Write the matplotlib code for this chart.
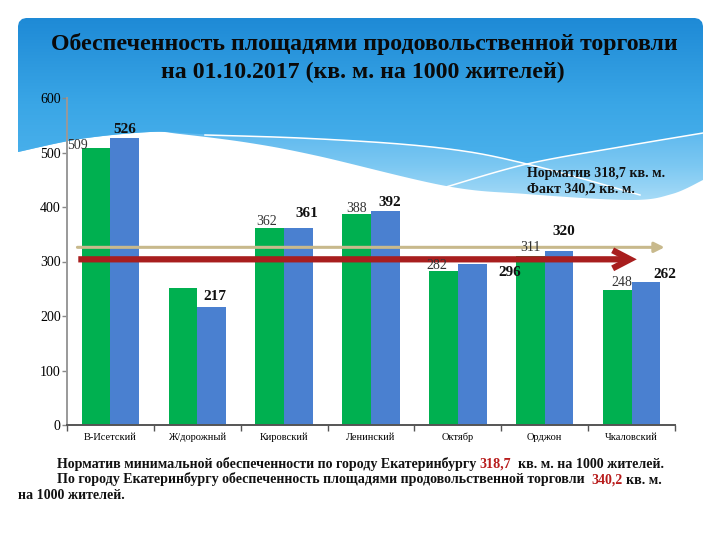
import numpy as np
import matplotlib
matplotlib.use('Agg')
import matplotlib.pyplot as plt
from matplotlib.path import Path
from matplotlib.patches import PathPatch
from matplotlib.colors import LinearSegmentedColormap

# ---------------- data ----------------
districts = ['В-Исетский', 'Ж/дорожный', 'Кировский', 'Ленинский', 'Октябр', 'Орджон', 'Чкаловский']
values_prev = [509, 251, 362, 388, 282, 311, 248]
labels_prev = ['509', '', '362', '388', '282', '311', '248']
values_curr = [526, 217, 361, 392, 296, 320, 262]
labels_curr = ['526', '217', '361', '392', '296', '320', '262']
norm_line_level = 326
fact_line_level = 304
y_ticks = [0, 100, 200, 300, 400, 500, 600]

title_lines = ['Обеспеченность площадями продовольственной торговли',
               'на 01.10.2017 (кв. м. на 1000 жителей)']
note_lines = ['Норматив 318,7 кв. м.', 'Факт 340,2 кв. м.']
bottom_line1 = [('Норматив минимальной обеспеченности по городу Екатеринбургу ', 'k'),
                ('318,7', 'r'), ('  кв. м. на 1000 жителей.', 'k')]
bottom_line2 = [('По городу Екатеринбургу обеспеченность площадями продовольственной торговли  ', 'k'),
                ('340,2', 'r'), (' кв. м.', 'k')]
bottom_line3 = 'на 1000 жителей.'

# ---------------- style ----------------
plt.rcParams['font.family'] = ['Liberation Serif', 'DejaVu Serif']
W, H = 720, 540
GREEN = '#00b050'
BLUE = '#4a80d0'
RED = '#a81e1e'
TAN = '#c8b98c'
TXT_RED = '#b81c1c'

# label offsets in pixels (dx, dy-up)
off_prev = [(-19, 2), (0, 0), (-3.5, 6.5), (0, 5), (-6.5, 5.5), (0, 8.5), (4.5, 7)]
off_curr = [(0, 8.5), (3, 10), (8, 15), (4.5, 8.5), (37.5, -9), (4.5, 19), (18.5, 7.5)]

fig = plt.figure(figsize=(7.2, 5.4), dpi=100, facecolor='white')

# ---------------- background ----------------
bg = fig.add_axes([0, 0, 1, 1], zorder=-1)
bg.set_xlim(0, W)
bg.set_ylim(H, 0)
bg.axis('off')


def catmull(pts, n=30):
    pts = np.array(pts, float)
    P = np.vstack([pts[0], pts, pts[-1]])
    out = []
    for i in range(1, len(P) - 2):
        p0, p1, p2, p3 = P[i - 1], P[i], P[i + 1], P[i + 2]
        t = np.linspace(0, 1, n, endpoint=False)[:, None]
        out.append(0.5 * ((2 * p1) + (-p0 + p2) * t + (2 * p0 - 5 * p1 + 4 * p2 - p3) * t ** 2
                          + (-p0 + 3 * p1 - 3 * p2 + p3) * t ** 3))
    out.append(pts[-1][None, :])
    return np.vstack(out)


xs = np.linspace(18, 703, 500)
cB = catmull([(18, 152), (80, 139), (150, 132), (180, 134), (250, 143), (318, 156), (446, 186),
              (526, 194), (630, 200), (672, 194), (703, 180)])
yB = np.interp(xs, cB[:, 0], cB[:, 1])
cL = catmull([(18, 152), (80, 139), (150, 132), (200, 134), (300, 138), (400, 144), (470, 152),
              (527, 164), (580, 178), (640, 194)])
l1 = catmull([(205, 135), (300, 138), (400, 144), (470, 152), (527, 164), (580, 178), (640, 195)])
l2 = catmull([(446, 187), (527, 164), (620, 147), (703, 133)])
yL = np.interp(xs, cL[:, 0], cL[:, 1], right=1e9)
y2 = np.interp(xs, l2[:, 0], l2[:, 1], left=1e9)
yA = np.minimum(np.minimum(yL, y2), yB)


def panel_path(ybot):
    top = [(18, 26), (19, 22), (22, 19), (26, 18), (695, 18), (699, 19), (702, 22), (703, 26)]
    verts = [(18, ybot[0])] + top + [(703, ybot[-1])] + list(zip(xs[::-1], ybot[::-1])) + [(18, ybot[0])]
    return Path(verts, closed=True)


# light band (gradient)
band_patch = PathPatch(panel_path(yB), facecolor='none', edgecolor='none', zorder=0)
bg.add_patch(band_patch)
cmap_band = LinearSegmentedColormap.from_list('b', ['#5db8ee', '#7cc8f2', '#a9dcf7'])
imb = bg.imshow(np.linspace(0, 1, 256)[:, None], extent=[18, 703, 202, 130], cmap=cmap_band,
                aspect='auto', zorder=0)
imb.set_clip_path(band_patch)

# dark gradient region
dark_patch = PathPatch(panel_path(yA), facecolor='none', edgecolor='none', zorder=1)
bg.add_patch(dark_patch)
cmap = LinearSegmentedColormap.from_list('g', ['#1e8ad6', '#3aa6e6', '#52b6ee'])
im = bg.imshow(np.linspace(0, 1, 256)[:, None], extent=[18, 703, 190, 18], cmap=cmap,
               aspect='auto', zorder=1)
im.set_clip_path(dark_patch)

# white thin curves
bg.plot(l1[:, 0], l1[:, 1], color='white', lw=1.1, zorder=2)
bg.plot(l2[:, 0], l2[:, 1], color='white', lw=1.1, zorder=2)

renderer = fig.canvas.get_renderer()


def text_width(s, **kw):
    t = fig.text(0, 0, s, **kw)
    w = t.get_window_extent(renderer).width
    t.remove()
    return w


def fit_size(s, target, weight='bold'):
    w = text_width(s, fontsize=10, fontweight=weight)
    return 10 * target / w


# ---------------- title ----------------
fs_title = fit_size(title_lines[0], 628)
fig.text(364 / W, 1 - 50 / H, title_lines[0], fontsize=fs_title, fontweight='bold',
         ha='center', va='baseline', color='#0a0a0a')
fig.text(363 / W, 1 - 78 / H, title_lines[1], fontsize=fs_title, fontweight='bold',
         ha='center', va='baseline', color='#0a0a0a')

# ---------------- main axes ----------------
ax = fig.add_axes([67 / W, 1 - 425 / H, 608 / W, 327 / H], zorder=2)
ax.patch.set_alpha(0)
x = np.arange(len(districts))
bw = 0.33
ax.bar(x - bw / 2, values_prev, bw, color=GREEN, zorder=2)
ax.bar(x + bw / 2, values_curr, bw, color=BLUE, zorder=2)
ax.set_xlim(-0.5, len(districts) - 0.5)
ax.set_ylim(0, 600)
ax.set_yticks(y_ticks)
ax.set_yticklabels([str(v) for v in y_ticks], fontsize=10)
ax.set_xticks(x)
ax.set_xticklabels(districts, fontsize=7.5)
ax.set_xticks(np.arange(-0.5, len(districts)), minor=True)
ax.tick_params(axis='x', which='major', length=0, pad=5.5)
ax.tick_params(axis='x', which='minor', length=4, width=1, color='#555555', direction='out')
ax.tick_params(axis='y', length=3.5, width=1, color='#888888', pad=1)
for s in ['top', 'right']:
    ax.spines[s].set_visible(False)
ax.spines['left'].set_color('#999999')
ax.spines['left'].set_linewidth(1.4)
ax.spines['bottom'].set_color('#555555')
ax.spines['bottom'].set_linewidth(1.4)

for i, (v, lab) in enumerate(zip(values_prev, labels_prev)):
    if lab:
        dx, dy = off_prev[i]
        ax.annotate(lab, (x[i] - bw / 2, v), xytext=(dx * 0.72, dy * 0.72), textcoords='offset points',
                    ha='center', va='center', fontsize=10, color='#333333', zorder=5)
for i, (v, lab) in enumerate(zip(values_curr, labels_curr)):
    dx, dy = off_curr[i]
    ax.annotate(lab, (x[i] + bw / 2, v), xytext=(dx * 0.72, dy * 0.72), textcoords='offset points',
                ha='center', va='center', fontsize=11, fontweight='bold', color='#111111', zorder=5)

# level lines with arrows
ax.annotate('', xy=(6.38, norm_line_level), xytext=(-0.38, norm_line_level),
            arrowprops=dict(arrowstyle='-|>,head_length=0.6,head_width=0.3', lw=2.2, color=TAN,
                            shrinkA=0, shrinkB=0, mutation_scale=10), zorder=4)
ax.annotate('', xy=(6.06, fact_line_level), xytext=(-0.37, fact_line_level),
            arrowprops=dict(arrowstyle='->,head_length=1.25,head_width=0.65', lw=4.5, color=RED,
                            shrinkA=0, shrinkB=0, mutation_scale=10, joinstyle='miter',
                            capstyle='butt'), zorder=4)

# ---------------- note ----------------
fs_note = fit_size(note_lines[0], 138)
fig.text(527 / W, 1 - 177.5 / H, note_lines[0], fontsize=fs_note, fontweight='bold',
         ha='left', va='baseline', color='#111111', zorder=5)
fig.text(527 / W, 1 - 192.5 / H, note_lines[1], fontsize=fs_note, fontweight='bold',
         ha='left', va='baseline', color='#111111', zorder=5)

# ---------------- bottom text ----------------
full1 = ''.join(p[0] for p in bottom_line1)
fs_bot = fit_size(full1, 608)


def rich_line(x0, ybase, pieces, fs):
    acc = ''
    for s, c in pieces:
        acc += s
        core = s.strip()
        end = text_width(acc.rstrip(), fontsize=fs, fontweight='bold')
        wcore = text_width(core, fontsize=fs, fontweight='bold')
        start = x0 + end - wcore
        fig.text(start / W, 1 - ybase / H, core, fontsize=fs, fontweight='bold',
                 color=(TXT_RED if c == 'r' else '#111111'), ha='left', va='baseline')


rich_line(57, 468, bottom_line1, fs_bot)
rich_line(57, 483.5, bottom_line2, fs_bot)
fig.text(18 / W, 1 - 499 / H, bottom_line3, fontsize=fs_bot, fontweight='bold',
         color='#111111', ha='left', va='baseline')

fig.savefig('out.png', dpi=100, facecolor='white')
